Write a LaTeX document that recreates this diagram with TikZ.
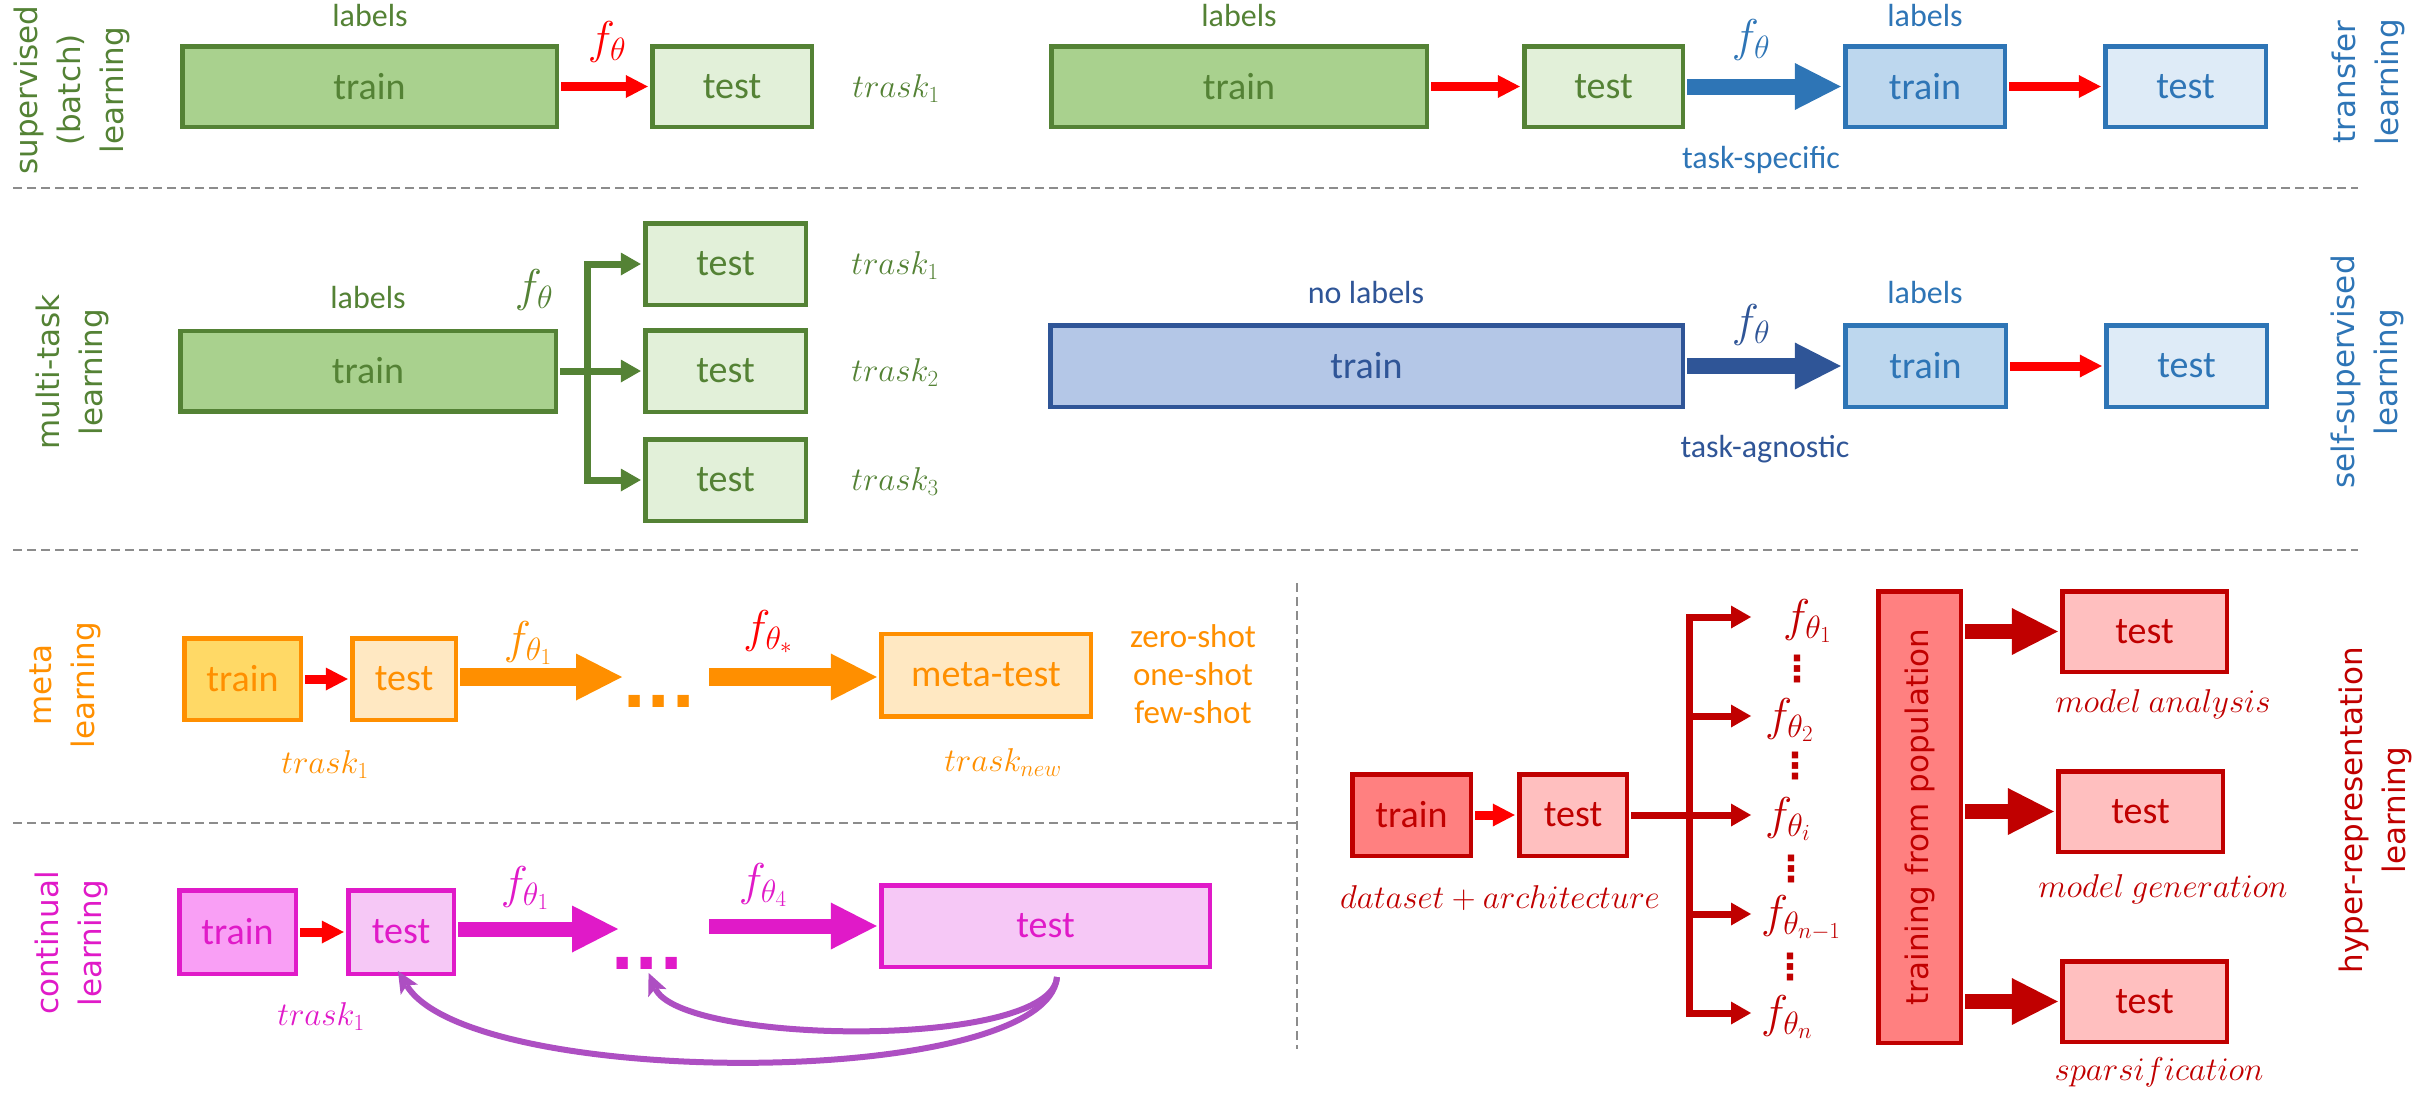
\RequirePackage{fix-cm}
\documentclass[tikz,border=0pt]{standalone}
\usepackage{fontspec}
\setmainfont{Carlito}
\newfontfamily\dejavu{DejaVu Sans}
\usetikzlibrary{arrows.meta}
\definecolor{gdark}{HTML}{548235}
\definecolor{gtrain}{HTML}{A9D18E}
\definecolor{gtest}{HTML}{E2F0D9}
\definecolor{bmid}{HTML}{2E75B6}
\definecolor{btrain}{HTML}{BDD7EE}
\definecolor{btest}{HTML}{DEEBF7}
\definecolor{bdark}{HTML}{2F5597}
\definecolor{bdtrain}{HTML}{B4C7E7}
\definecolor{orng}{HTML}{FF8F00}
\definecolor{ytrain}{HTML}{FFD966}
\definecolor{ytest}{HTML}{FFE8C2}
\definecolor{mag}{HTML}{E01AC8}
\definecolor{mtrain}{HTML}{F99FF5}
\definecolor{mtest}{HTML}{F6C8F6}
\definecolor{purp}{HTML}{AD4FC2}
\definecolor{rdark}{HTML}{C00000}
\definecolor{rtrain}{HTML}{FF8080}
\definecolor{rtest}{HTML}{FFBFBF}
\definecolor{rbright}{HTML}{FF0000}
\definecolor{sepc}{HTML}{8C8C8C}
\tikzset{
  box/.style={rectangle, draw, line width=4.5pt, inner sep=0pt, font=\fontsize{38}{40}\selectfont},
  wh/.style 2 args={minimum width=#1pt-4.5pt, minimum height=#2pt-4.5pt},
  gbox/.style={box, draw=gdark, text=gdark},
  bbox/.style={box, draw=bmid, text=bmid},
  dbbox/.style={box, draw=bdark, text=bdark},
  obox/.style={box, draw=orng, text=orng},
  mbox/.style={box, draw=mag, text=mag},
  rbox/.style={box, draw=rdark, text=rdark},
  lbl/.style={inner sep=0pt, font=\fontsize{32}{36}\selectfont},
  mth/.style={inner sep=0pt, font=\fontsize{33}{36}\selectfont},
  fth/.style={inner sep=0pt, font=\fontsize{46}{50}\selectfont},
  side/.style={rotate=90, align=center, inner sep=0pt, font=\dejavu\fontsize{31}{43}\selectfont},
  dotsnode/.style={inner sep=0pt, font=\dejavu\bfseries\fontsize{64}{64}\selectfont},
  vdotsnode/.style={inner sep=0pt, font=\dejavu\bfseries\fontsize{36}{36}\selectfont, text=rdark},
  sepline/.style={draw=sepc, line width=2.5pt, dash pattern=on 9pt off 5pt},
  redarr/.style={color=rbright, line width=9pt, shorten <=2.2pt, shorten >=2.2pt, -{Triangle[length=22pt,width=23pt,line width=0pt]}},
  blockarr/.style={color=#1, line width=16pt, shorten <=2.2pt, shorten >=2.2pt, -{Triangle[length=46pt,width=47pt,line width=0pt]}},
  freearr/.style={color=#1, line width=16pt, -{Triangle[length=46pt,width=47pt,line width=0pt]}},
  branch/.style={color=#1, line width=7pt, line join=miter, shorten <=2.2pt, shorten >=2.2pt, -{Triangle[length=20pt,width=23pt,line width=0pt]}},
  purarr/.style={color=purp, line width=6pt, -{Stealth[length=22pt,width=20pt,inset=5pt,line width=0pt]}},
}
\begin{document}
\begin{tikzpicture}[x=1pt,y=-1pt]
\useasboundingbox (0,0) rectangle (2436,1095);

% separators
\draw[sepline] (13,188) -- (2358,188);
\draw[sepline] (13,550) -- (2358,550);
\draw[sepline] (13,823) -- (1297,823);
\draw[sepline] (1297,583) -- (1297,1049);

% ---------- row 1 left: supervised
\node[side, text=gdark] (sv_side) at (72,90) {supervised\\(batch)\\learning};
\node[gbox, fill=gtrain, wh={379}{85}] (sv_tr) at (369.5,86.5) {train};
\node[gbox, fill=gtest, wh={164}{85}] (sv_te) at (732,86.5) {test};
\node[lbl, text=gdark] (sv_lab) at (370,16) {labels};
\node[fth, text=rbright] (sv_f) at (607,42) {$f_\theta$};
\node[mth, text=gdark] (sv_task) at (896,89) {$trask_1$};
\draw[redarr] (sv_tr.east) -- (sv_te.west);

% ---------- row 1 right: transfer
\node[gbox, fill=gtrain, wh={380}{85}] (tr_tr) at (1239,86.5) {train};
\node[gbox, fill=gtest, wh={163}{85}] (tr_te) at (1603.5,86.5) {test};
\node[bbox, fill=btrain, wh={164}{85}] (tr_btr) at (1925,86.5) {train};
\node[bbox, fill=btest, wh={165}{85}] (tr_bte) at (2185.5,86.5) {test};
\node[lbl, text=gdark] (tr_lab1) at (1239,16) {labels};
\node[lbl, text=bmid] (tr_lab2) at (1925,16) {labels};
\node[fth, text=bmid] (tr_f) at (1751,40) {$f_\theta$};
\node[lbl, text=bmid] (tr_spec) at (1761,160) {task-specific};
\node[side, text=bmid] (tr_side) at (2368,82) {transfer\\learning};
\draw[redarr] (tr_tr.east) -- (tr_te.west);
\draw[blockarr=bmid] (tr_te.east) -- (tr_btr.west);
\draw[redarr] (tr_btr.east) -- (tr_bte.west);

% ---------- row 2 left: multi-task
\node[side, text=gdark] (mt_side) at (72.5,372) {multi-task\\learning};
\node[gbox, fill=gtrain, wh={380}{85}] (mt_tr) at (368,371) {train};
\node[gbox, fill=gtest, wh={165}{86}] (mt_te1) at (725.5,264) {test};
\node[gbox, fill=gtest, wh={165}{86}] (mt_te2) at (725.5,371) {test};
\node[gbox, fill=gtest, wh={165}{86}] (mt_te3) at (725.5,480) {test};
\node[lbl, text=gdark] (mt_lab) at (368,298) {labels};
\node[fth, text=gdark] (mt_f) at (534,290) {$f_\theta$};
\node[mth, text=gdark] (mt_t1) at (895,266) {$trask_1$};
\node[mth, text=gdark] (mt_t2) at (895,373) {$trask_2$};
\node[mth, text=gdark] (mt_t3) at (895,482) {$trask_3$};
\draw[branch=gdark] (mt_tr.east) -- ++(29,0) |- (mt_te1.west);
\draw[branch=gdark] (mt_tr.east) -- (mt_te2.west);
\draw[branch=gdark] (mt_tr.east) -- ++(29,0) |- (mt_te3.west);

% ---------- row 2 right: self-supervised
\node[dbbox, fill=bdtrain, wh={637}{86}] (ss_tr) at (1366.5,366) {train};
\node[bbox, fill=btrain, wh={165}{86}] (ss_btr) at (1925.5,366) {train};
\node[bbox, fill=btest, wh={165}{86}] (ss_bte) at (2186.5,366) {test};
\node[lbl, text=bdark] (ss_nolab) at (1366,293) {no labels};
\node[lbl, text=bmid] (ss_lab) at (1925,293) {labels};
\node[fth, text=bdark] (ss_f) at (1751,325) {$f_\theta$};
\node[lbl, text=bdark] (ss_agn) at (1765,449) {task-agnostic};
\node[side, text=bmid] (ss_side) at (2367,372) {self-supervised\\learning};
\draw[blockarr=bdark] (ss_tr.east) -- (ss_btr.west);
\draw[redarr] (ss_btr.east) -- (ss_bte.west);

% ---------- meta learning
\node[side, text=orng] (me_side) at (65.5,685) {meta\\learning};
\node[obox, fill=ytrain, wh={121}{86}] (me_tr) at (242.5,679) {train};
\node[obox, fill=ytest, wh={108}{86}] (me_te) at (404,679) {test};
\node[obox, fill=ytest, wh={214}{87}] (me_mt) at (986,675) {meta-test};
\coordinate (me_a1) at (622,677);
\coordinate (me_a2) at (709,677);
\node[dotsnode, text=orng] (me_dots) at (659,701) {...};
\node[fth, text=orng] (me_f1) at (528,643) {$f_{\theta_1}$};
\node[fth, text=rbright] (me_fs) at (768,632) {$f_{\theta_*}$};
\node[lbl, text=orng, align=center, font=\fontsize{33}{38}\selectfont] (me_shots) at (1193,674) {zero-shot\\one-shot\\few-shot};
\node[mth, text=orng] (me_t1) at (325,765) {$trask_1$};
\node[mth, text=orng] (me_tn) at (1003,763) {$trask_{new}$};
\draw[redarr] (me_tr.east) -- (me_te.west);
\draw[freearr=orng, line width=18pt, shorten <=2.2pt] (me_te.east |- me_a1) -- (me_a1);
\draw[freearr=orng, line width=18pt, shorten >=2.2pt] (me_a2) -- (me_a2 -| me_mt.west);

% ---------- continual learning
\node[side, text=mag] (co_side) at (71.5,943) {continual\\learning};
\node[mbox, fill=mtrain, wh={121}{88}] (co_tr) at (237.5,932) {train};
\node[mbox, fill=mtest, wh={110}{88}] (co_te) at (401,932) {test};
\node[mbox, fill=mtest, wh={333}{86}] (co_bt) at (1045.5,926) {test};
\coordinate (co_a1) at (618,929);
\coordinate (co_a2) at (709,926);
\node[dotsnode, text=mag] (co_dots) at (647,963) {...};
\node[fth, text=mag] (co_f1) at (525,888) {$f_{\theta_1}$};
\node[fth, text=mag] (co_f4) at (763,885) {$f_{\theta_4}$};
\node[mth, text=mag] (co_t1) at (321,1017) {$trask_1$};
\draw[redarr] (co_tr.east) -- (co_te.west);
\draw[freearr=mag, line width=15pt, shorten <=2.2pt] (co_te.east |- co_a1) -- (co_a1);
\draw[freearr=mag, line width=15pt, shorten >=2.2pt] (co_a2) -- (co_a2 -| co_bt.west);
\coordinate (co_s) at (1057,977);
\draw[purarr, shorten >=-6pt] (co_s) .. controls (1047,1090) and (470,1090) .. (co_te.south);
\draw[purarr, shorten >=4pt] (co_s) .. controls (1052,1050) and (680,1045) .. (co_dots.south);

% ---------- hyper-representation learning
\node[side, text=rdark] (hy_side) at (2375,810) {hyper-representation\\learning};
\node[rbox, fill=rtrain, wh={123}{86}] (hy_tr) at (1411.5,815) {train};
\node[rbox, fill=rtest, wh={112}{86}] (hy_te) at (1573,815) {test};
\node[mth, text=rdark] (hy_da) at (1500,898) {$dataset + architecture$};
\draw[redarr] (hy_tr.east) -- (hy_te.west);
\coordinate (hy_p1) at (1751,617);
\coordinate (hy_p2) at (1751,716);
\coordinate (hy_p3) at (1751,815);
\coordinate (hy_p4) at (1751,914);
\coordinate (hy_p5) at (1751,1013);
\draw[branch=rdark, shorten >=0pt] (hy_te.east) -- ++(60,0) |- (hy_p1);
\draw[branch=rdark, shorten >=0pt] (hy_te.east) -- ++(60,0) |- (hy_p2);
\draw[branch=rdark, shorten >=0pt] (hy_te.east) -- (hy_p3);
\draw[branch=rdark, shorten >=0pt] (hy_te.east) -- ++(60,0) |- (hy_p4);
\draw[branch=rdark, shorten >=0pt] (hy_te.east) -- ++(60,0) |- (hy_p5);
\node[fth, text=rdark, anchor=west] (hy_f1) at (1783,621) {$f_{\theta_1}$};
\node[fth, text=rdark, anchor=west] (hy_f2) at (1765,720) {$f_{\theta_2}$};
\node[fth, text=rdark, anchor=west] (hy_fi) at (1765,819) {$f_{\theta_i}$};
\node[fth, text=rdark, anchor=west] (hy_fn1) at (1761,918) {$f_{\theta_{n-1}}$};
\node[fth, text=rdark, anchor=west] (hy_fn) at (1761,1017) {$f_{\theta_n}$};
\node[vdotsnode] (hy_v1) at (1797,669) {⋮};
\node[vdotsnode] (hy_v2) at (1795,766) {⋮};
\node[vdotsnode] (hy_v3) at (1791,869) {⋮};
\node[vdotsnode] (hy_v4) at (1790,967) {⋮};
\node[rbox, fill=rtrain, wh={87}{456}] (hy_pop) at (1919.5,817) {};
\node[side, text=rdark] (hy_poptxt) at (hy_pop.center) {training from population};
\node[rbox, fill=rtest, wh={169}{85}] (hy_o1) at (2144.5,631.5) {test};
\node[rbox, fill=rtest, wh={169}{85}] (hy_o2) at (2140.5,811.5) {test};
\node[rbox, fill=rtest, wh={169}{85}] (hy_o3) at (2144.5,1001.5) {test};
\draw[blockarr=rdark, line width=15pt] (hy_pop.east |- hy_o1.west) -- (hy_o1.west);
\draw[blockarr=rdark, line width=15pt] (hy_pop.east |- hy_o2.west) -- (hy_o2.west);
\draw[blockarr=rdark, line width=15pt] (hy_pop.east |- hy_o3.west) -- (hy_o3.west);
\node[mth, text=rdark] (hy_l1) at (2163,704) {$model\ analysis$};
\node[mth, text=rdark] (hy_l2) at (2163,889) {$model\ generation$};
\node[mth, text=rdark] (hy_l3) at (2159,1072) {$sparsification$};
\end{tikzpicture}
\end{document}
